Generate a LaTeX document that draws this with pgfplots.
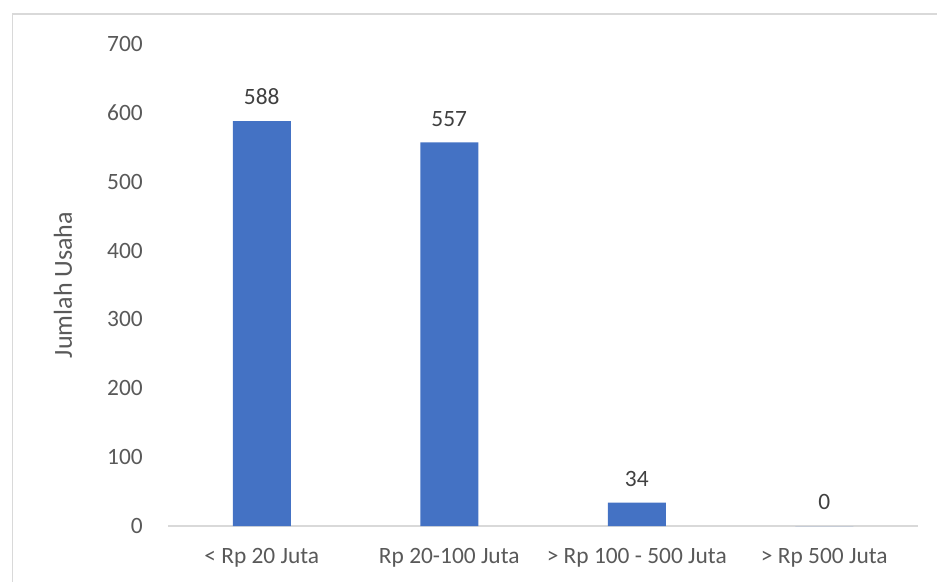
\documentclass[border=0pt]{standalone}
\usepackage{pgfplots}
\pgfplotsset{compat=1.18}
\usepackage{fontspec}
\setmainfont{Carlito}
\definecolor{txt}{HTML}{595959}
\definecolor{lbl}{HTML}{404040}
\definecolor{bar}{HTML}{4472C4}
\definecolor{frame}{HTML}{D9D9D9}
\begin{document}
\begin{tikzpicture}[x=1pt,y=1pt]
\useasboundingbox (0,0) rectangle (937,581);
\draw[frame,line width=1.5pt] (12.5,567) rectangle (950,-10);
\begin{axis}[
  at={(168pt,55pt)}, anchor=south west,
  scale only axis, width=750pt, height=482pt,
  xmin=-0.5, xmax=3.5, ymin=0, ymax=700,
  ytick={0,100,...,700},
  xtick={0,1,2,3},
  xticklabels={{< Rp 20 Juta},{Rp 20-100 Juta},{> Rp 100 - 500 Juta},{> Rp 500 Juta}},
  axis x line*=bottom, axis y line*=left,
  x axis line style={frame, line width=1.2pt, -},
  y axis line style={draw=none},
  major tick length=0pt,
  /pgf/number format/assume math mode=true,
  tick label style={font=\fontsize{23.4}{28}\selectfont, text=txt},
  yticklabel style={anchor=east, inner sep=0pt, xshift=-25pt},
  xticklabel style={anchor=north, inner sep=0pt, yshift=-22pt},
  ylabel={Jumlah Usaha},
  ylabel style={at={(axis description cs:-0.14,0.5)}, anchor=center, font=\fontsize{26}{31}\selectfont, text=txt},
  ybar, bar width=58pt,
  nodes near coords,
  nodes near coords style={font=\fontsize{23.4}{28}\selectfont, text=lbl, inner sep=0pt, anchor=south, yshift=16pt},
  clip=false,
]
\addplot[fill=bar, draw=none] coordinates {(0,588) (1,557) (2,34) (3,0)};
\end{axis}
\end{tikzpicture}
\end{document}
